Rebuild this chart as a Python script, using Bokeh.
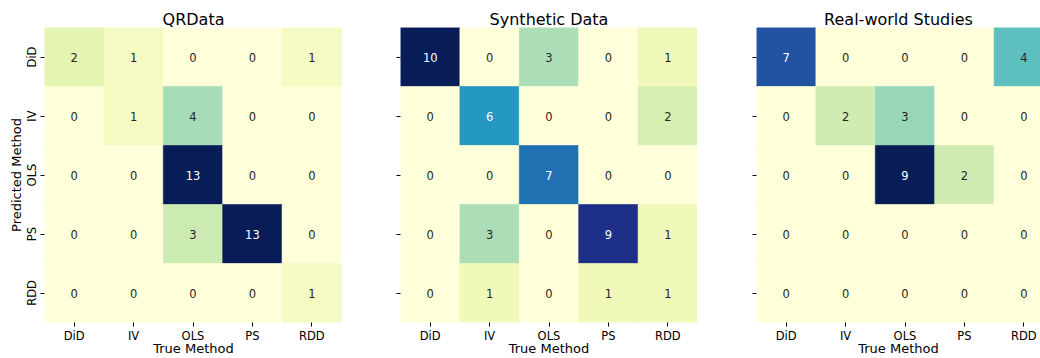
import math
from bokeh.plotting import figure
from bokeh.models import ColumnDataSource, LinearColorMapper, Range1d, FixedTicker
from bokeh.transform import transform
from bokeh.palettes import YlGnBu9, interp_palette
from bokeh.layouts import row
from bokeh.embed import file_html
from bokeh.resources import INLINE
from bokeh.core.properties import value

methods = ["DiD", "IV", "OLS", "PS", "RDD"]
titles = ["QRData", "Synthetic Data", "Real-world Studies"]
# rows = predicted method, columns = true method
qrdata = [[2, 1, 0, 0, 1],
          [0, 1, 4, 0, 0],
          [0, 0, 13, 0, 0],
          [0, 0, 3, 13, 0],
          [0, 0, 0, 0, 1]]
synthetic = [[10, 0, 3, 0, 1],
             [0, 6, 0, 0, 2],
             [0, 0, 7, 0, 0],
             [0, 3, 0, 9, 1],
             [0, 1, 0, 1, 1]]
realworld = [[7, 0, 0, 0, 4],
             [0, 2, 3, 0, 0],
             [0, 0, 9, 2, 0],
             [0, 0, 0, 0, 0],
             [0, 0, 0, 0, 0]]

PAL = list(interp_palette(YlGnBu9[::-1], 256))
FONT = "DejaVu Sans"
HEIGHT = 358


def lum(hexc):
    r, g, b = (int(hexc[i:i + 2], 16) / 255 for i in (1, 3, 5))
    def lin(c):
        return c / 12.92 if c <= 0.03928 else ((c + 0.055) / 1.055) ** 2.4
    return 0.2126 * lin(r) + 0.7152 * lin(g) + 0.0722 * lin(b)


def panel(title, data, width, left_border, cell_px, first):
    n = len(methods)
    vmax = max(max(r) for r in data)
    mapper = LinearColorMapper(palette=PAL, low=0, high=vmax)
    xs, ys, vs, labs, tcol = [], [], [], [], []
    for i, rv in enumerate(data):
        for j, v in enumerate(rv):
            xs.append(j + 0.5)
            ys.append(i + 0.5)
            vs.append(v)
            labs.append(str(v))
            idx = min(255, int(v / vmax * 256))
            tcol.append("#262626" if lum(PAL[idx][:7]) > 0.408 else "#ffffff")
    src = ColumnDataSource(dict(x=xs, y=ys, v=vs, lab=labs, tc=tcol))
    frame_w = width - left_border
    p = figure(width=width, height=HEIGHT, title=title,
               x_range=Range1d(0, frame_w / cell_px), y_range=Range1d(n, 0),
               output_backend="svg", toolbar_location=None,
               min_border_left=left_border, min_border_right=0,
               min_border_top=27, min_border_bottom=0)
    p.rect(x="x", y="y", width=1, height=1, source=src,
           fill_color=transform("v", mapper), line_color=transform("v", mapper),
           line_width=0.6)
    p.text(x="x", y="y", text="lab", source=src, text_color="tc",
           text_align="center", text_baseline="middle",
           text_font=value(FONT), text_font_size="11.5px")
    ticks = [k + 0.5 for k in range(n)]
    p.xaxis.ticker = FixedTicker(ticks=ticks)
    p.yaxis.ticker = FixedTicker(ticks=ticks)
    p.xaxis.major_label_overrides = {t: m for t, m in zip(ticks, methods)}
    if first:
        p.yaxis.major_label_overrides = {t: m for t, m in zip(ticks, methods)}
        p.yaxis.axis_label = "Predicted Method"
    else:
        p.yaxis.major_label_overrides = {t: "" for t in ticks}
    p.xaxis.axis_label = "True Method"
    p.yaxis.major_label_orientation = "vertical"
    for ax in (p.xaxis[0], p.yaxis[0]):
        ax.axis_line_color = None
        ax.minor_tick_line_color = None
        ax.major_tick_in = 0
        ax.major_tick_out = 4
        ax.major_tick_line_color = "#000000"
        ax.major_label_text_font = FONT
        ax.major_label_text_font_size = "11.5px"
        ax.major_label_text_color = "#000000"
        ax.major_label_standoff = 2
        ax.axis_label_text_font = FONT
        ax.axis_label_text_font_size = "13px"
        ax.axis_label_text_font_style = "normal"
        ax.axis_label_text_color = "#000000"
    p.xaxis[0].axis_label_standoff = -5
    p.yaxis[0].axis_label_standoff = -2
    p.grid.visible = False
    p.outline_line_color = None
    p.title.align = "center"
    p.title.text_font = FONT
    p.title.text_font_size = "16px"
    p.title.text_font_style = "normal"
    p.title.text_color = "#000000"
    p.title.standoff = -2
    p.background_fill_color = "white"
    p.border_fill_color = "white"
    return p


CELL = 59.4
p1 = panel(titles[0], qrdata, 342, 44, CELL, True)
p2 = panel(titles[1], synthetic, 355, 58, CELL, False)
p3 = panel(titles[2], realworld, 343, 59, CELL, False)
layout = row(p1, p2, p3, spacing=0)

open("out.html", "w").write(file_html(layout, INLINE))
